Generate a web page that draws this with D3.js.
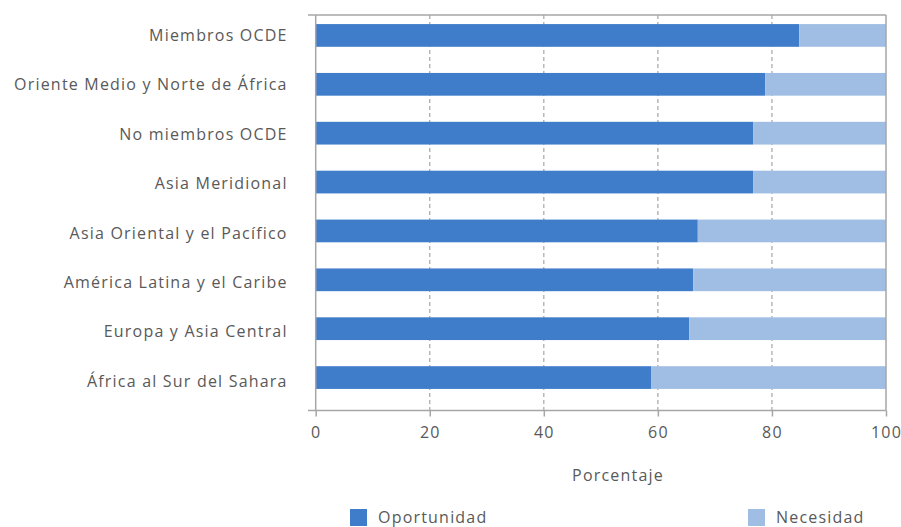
<!DOCTYPE html>
<html>
<head>
<meta charset="utf-8">
<script src="https://cdn.jsdelivr.net/npm/d3@7"></script>
<style>
  body { margin: 0; background: #fff; }
  text { font-family: "Open Sans", sans-serif; fill: #595959; letter-spacing: 1.2px; }
</style>
</head>
<body>
<script>
// data
const regiones = ["Miembros OCDE", "Oriente Medio y Norte de África", "No miembros OCDE",
  "Asia Meridional", "Asia Oriental y el Pacífico", "América Latina y el Caribe",
  "Europa y Asia Central", "África al Sur del Sahara"];
const oportunidad = [84.8, 78.8, 76.7, 76.7, 67.0, 66.2, 65.5, 58.8];
const necesidad = oportunidad.map(v => 100 - v);
const ticks = [0, 20, 40, 60, 80, 100];
const series = ["Oportunidad", "Necesidad"];
const colores = ["#3f7dcb", "#a0bee3"];

const width = 901, height = 527;
const svg = d3.select("body").append("svg").attr("width", width).attr("height", height);

const x = d3.scaleLinear().domain([0, 100]).range([315.7, 886]);
const y = d3.scaleBand().domain(regiones).range([11, 402]).paddingInner(0.535).paddingOuter(0.2675);
// the labels in the original sit on a slightly wider spacing than the bars
const yLab = d3.scalePoint().domain(regiones).range([35.5, 381]);
const plotTop = 15, plotBottom = 410.5;

// gridlines
svg.append("g").selectAll("line").data(ticks.slice(1, -1)).join("line")
  .attr("x1", d => x(d)).attr("x2", d => x(d))
  .attr("y1", plotTop).attr("y2", plotBottom)
  .attr("stroke", "#a6a6a6").attr("stroke-width", 1.2).attr("stroke-dasharray", "4,3");

// stacked bars
const rows = regiones.map((r, i) => ({ region: r, Oportunidad: oportunidad[i], Necesidad: necesidad[i] }));
const stack = d3.stack().keys(series)(rows);
svg.append("g").selectAll("g").data(stack).join("g")
  .attr("fill", (d, i) => colores[i])
  .selectAll("rect").data(d => d).join("rect")
  .attr("x", d => x(d[0]))
  .attr("width", d => x(d[1]) - x(d[0]))
  .attr("y", d => y(d.data.region))
  .attr("height", y.bandwidth());

// frame
const frame = svg.append("g").attr("stroke", "#a6a6a6").attr("stroke-width", 1.5).attr("fill", "none");
frame.append("line").attr("x1", 308).attr("x2", x(100)).attr("y1", plotTop).attr("y2", plotTop);
frame.append("line").attr("x1", x(100)).attr("x2", x(100)).attr("y1", plotTop).attr("y2", plotBottom);

// x axis
const xAxis = svg.append("g").attr("transform", `translate(0,${plotBottom})`)
  .call(d3.axisBottom(x).tickValues(ticks).tickSize(6).tickPadding(10));
xAxis.select(".domain").remove();
xAxis.append("line").attr("x1", 308).attr("x2", x(100)).attr("stroke", "#a6a6a6").attr("stroke-width", 1.5);
xAxis.selectAll(".tick line").attr("stroke", "#a6a6a6").attr("stroke-width", 1.5);
xAxis.selectAll(".tick text").attr("font-size", 16).attr("fill", "#595959")
  .attr("font-family", "'Open Sans', sans-serif");

// y axis
const yAxis = svg.append("g").attr("transform", `translate(${x(0)},0)`)
  .call(d3.axisLeft(yLab).tickSize(0).tickPadding(28));
yAxis.select(".domain").remove();
yAxis.append("line").attr("y1", plotTop).attr("y2", plotBottom).attr("stroke", "#a6a6a6").attr("stroke-width", 1.5);
yAxis.selectAll(".tick text").attr("font-size", 16).attr("fill", "#595959")
  .attr("font-family", "'Open Sans', sans-serif");

// axis title
svg.append("text").attr("x", 618).attr("y", 481).attr("text-anchor", "middle")
  .attr("font-size", 16).text("Porcentaje");

// legend
const legX = [350, 748];
const leg = svg.append("g").selectAll("g").data(series).join("g")
  .attr("transform", (d, i) => `translate(${legX[i]},509)`);
leg.append("rect").attr("width", 17).attr("height", 17).attr("fill", (d, i) => colores[i]);
leg.append("text").attr("x", 28).attr("y", 14).attr("font-size", 16).text(d => d);
</script>
</body>
</html>
